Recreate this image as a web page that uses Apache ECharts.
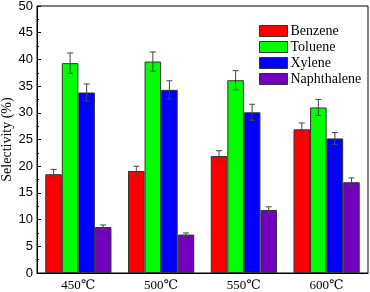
<!DOCTYPE html>
<html><head><meta charset="utf-8">
<script src="https://cdn.jsdelivr.net/npm/echarts@6/dist/echarts.min.js"></script>
<style>html,body{margin:0;padding:0;background:#fff}#c{width:370px;height:292px}</style>
</head><body><div id="c"></div>
<script>
const categories = ['450℃', '500℃', '550℃', '600℃'];
const seriesNames = ['Benzene', 'Toluene', 'Xylene', 'Naphthalene'];
const benzene = [18.5, 19.1, 21.9, 26.9];
const toluene = [39.3, 39.6, 36.1, 31.0];
const xylene = [33.8, 34.3, 30.1, 25.2];
const naphthalene = [8.6, 7.2, 11.8, 17.0];
const benzeneErr = [0.9, 0.9, 1.0, 1.2];
const tolueneErr = [1.9, 1.8, 1.8, 1.5];
const xyleneErr = [1.6, 1.7, 1.5, 1.1];
const naphthaleneErr = [0.4, 0.3, 0.6, 0.8];
const yTicks = [0, 5, 10, 15, 20, 25, 30, 35, 40, 45, 50];

const values = [benzene, toluene, xylene, naphthalene];
const errs = [benzeneErr, tolueneErr, xyleneErr, naphthaleneErr];
const colors = ['#ff0000', '#00ff00', '#0000ff', '#7300bf'];
const serif = '"Liberation Serif", "DejaVu Serif", serif';
const sans = '"Liberation Sans", Arial, sans-serif';

const chart = echarts.init(document.getElementById('c'), null, {renderer: 'canvas'});
const series = [];
values.forEach((v, i) => {
  series.push({
    name: seriesNames[i], type: 'bar', data: v, barWidth: '20%', barGap: '0%',
    itemStyle: {color: colors[i], borderColor: '#333', borderWidth: 1},
    z: 2
  });
});
values.forEach((v, i) => {
  series.push({
    type: 'custom', z: 5, silent: true,
    data: v.map((val, k) => [k, val, errs[i][k]]),
    renderItem: function (params, api) {
      const k = api.value(0), val = api.value(1), e = api.value(2);
      const cw = api.size([1, 0])[0];
      const bw = cw * 0.2;
      const off = (i - 1.5) * bw;
      const top = api.coord([k, val + e]);
      const bot = api.coord([k, val - e]);
      const x = top[0] + off;
      const cap = 3;
      const st = {stroke: '#444', lineWidth: 1};
      return {type: 'group', children: [
        {type: 'line', shape: {x1: x, y1: top[1], x2: x, y2: bot[1]}, style: st},
        {type: 'line', shape: {x1: x - cap, y1: top[1], x2: x + cap, y2: top[1]}, style: st},
        {type: 'line', shape: {x1: x - cap, y1: bot[1], x2: x + cap, y2: bot[1]}, style: st}
      ]};
    }
  });
});

chart.setOption({
  animation: false,
  backgroundColor: '#fff',
  grid: {left: 37, right: 2, top: 6, bottom: 19, show: true, borderColor: '#000', borderWidth: 1,
         containLabel: false, outerBoundsMode: 'none'},
  legend: {
    data: seriesNames.map(n => ({name: n, icon: 'rect'})), orient: 'vertical', left: 254, top: 19,
    itemWidth: 28, itemHeight: 11, itemGap: 2,
    textStyle: {fontFamily: serif, fontSize: 14, color: '#000', lineHeight: 14, padding: [0, 0, 0, -2]},
    itemStyle: {borderColor: '#333', borderWidth: 1}
  },
  xAxis: {
    type: 'category', data: categories,
    axisLine: {lineStyle: {color: '#000'}},
    axisTick: {show: false},
    axisLabel: {fontFamily: serif, fontSize: 13, color: '#000', margin: 6}
  },
  yAxis: {
    type: 'value', min: yTicks[0], max: yTicks[yTicks.length - 1], interval: 5,
    name: 'Selectivity (%)', nameLocation: 'middle', nameGap: 23, nameMoveOverlap: false,
    nameTextStyle: {fontFamily: serif, fontSize: 14, color: '#000'},
    axisLine: {show: true, lineStyle: {color: '#000'}},
    axisTick: {show: true, inside: true, length: 4, lineStyle: {color: '#000'}},
    minorTick: {show: true, splitNumber: 2, length: 2, lineStyle: {color: '#000'}},
    splitLine: {show: false},
    axisLabel: {fontFamily: sans, fontSize: 13, color: '#000', margin: 4}
  },
  series: series
});
</script></body></html>
